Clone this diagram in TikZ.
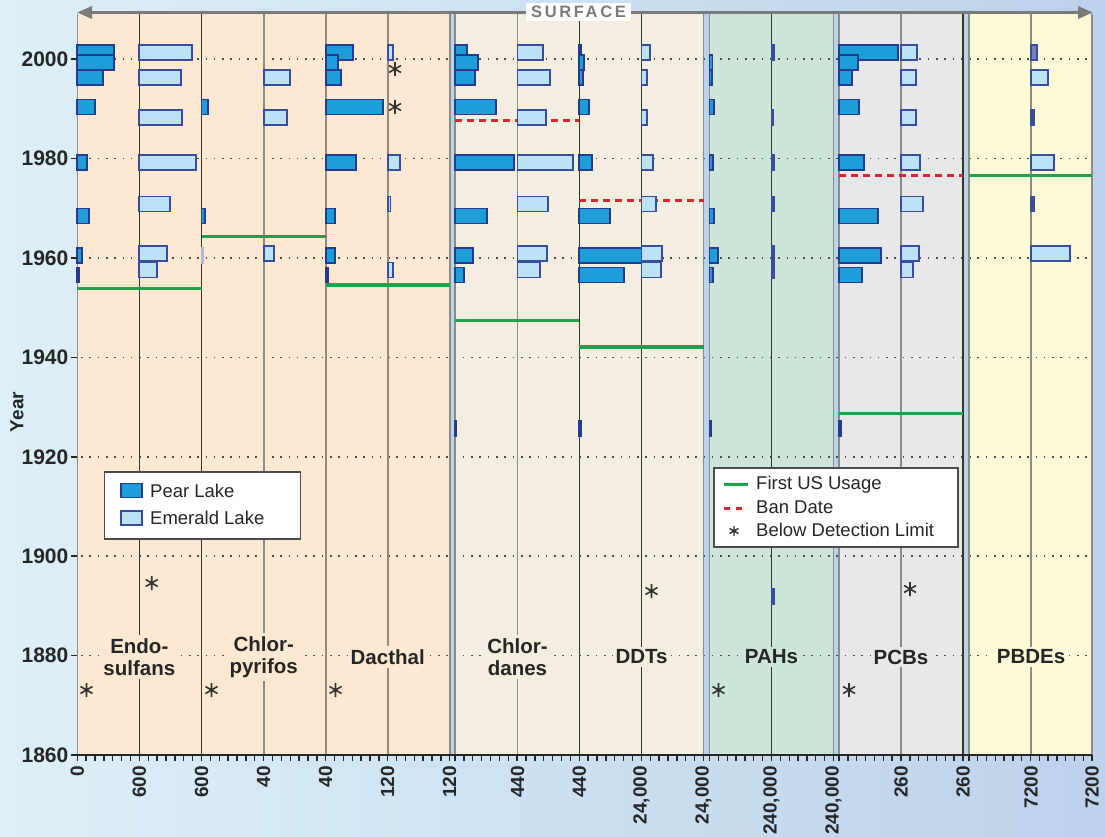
\documentclass[tikz,border=0pt]{standalone}
\usepackage{fontspec}
\setmainfont{Liberation Sans}
\usetikzlibrary{arrows.meta}
\definecolor{bgL}{HTML}{DDEFF8}
\definecolor{bgR}{HTML}{BDD2EB}
\definecolor{gapC}{HTML}{BAD4EC}
\definecolor{peach}{HTML}{FDE9D1}
\definecolor{beige}{HTML}{F3EEDF}
\definecolor{mint}{HTML}{CDE6D9}
\definecolor{pale}{HTML}{E8E8EA}
\definecolor{lemon}{HTML}{FCFAD7}
\definecolor{pearF}{HTML}{1E9ED8}
\definecolor{pearD}{HTML}{263A8E}
\definecolor{emerF}{HTML}{BCE2F6}
\definecolor{emerD}{HTML}{3A4C9E}
\definecolor{useG}{HTML}{20A24A}
\definecolor{banR}{HTML}{D8262E}
\definecolor{lineD}{HTML}{333333}
\definecolor{lineG}{HTML}{8C8C8C}
\definecolor{arrowC}{HTML}{7A7A7A}
\begin{document}
\begin{tikzpicture}[x=1pt,y=-1pt,
 pear/.style={fill=pearF,draw=pearD,line width=1.8pt},
 emer/.style={fill=emerF,draw=emerD,line width=1.8pt},
 gridline/.style={draw=black!70,line width=1.6pt,dash pattern=on 1.6pt off 6.7pt},
 firstuse/.style={draw=useG,line width=3pt},
 thickuse/.style={draw=useG,line width=4pt},
 bandate/.style={draw=banR,line width=3pt,dash pattern=on 7pt off 5pt},
 divline/.style={draw=lineG,line width=1.6pt},
 darkline/.style={draw=lineD,line width=1.6pt},
 pname/.style={font=\bfseries\fontsize{20.5}{22}\selectfont,align=center,inner sep=3pt,text=black!85},
 ylab/.style={font=\bfseries\fontsize{21}{22}\selectfont,anchor=east,inner sep=1pt,text=black!85},
 xlab/.style={font=\bfseries\fontsize{19}{21}\selectfont,rotate=90,anchor=east,inner sep=1pt,text=black!85},
 legtext/.style={font=\fontsize{18.5}{20}\selectfont,anchor=west,inner sep=1pt,text=black!85},
 legbox/.style={draw=black!70,fill=white,line width=1.3pt,inner sep=0pt},
 astk/.pic={\draw[line width=1.6pt,draw=black!80] (0,-7)--(0,7) (-6,-3.5)--(6,3.5) (-6,3.5)--(6,-3.5);},
 smallastk/.pic={\draw[line width=1.4pt,draw=black!80] (0,-5)--(0,5) (-4.4,-2.5)--(4.4,2.5) (-4.4,2.5)--(4.4,-2.5);}
]
\useasboundingbox (0,0) rectangle (1105,837);
\clip (0,0) rectangle (1105,837);
\shade[left color=bgL,right color=bgR] (0,0) rectangle (1105,837);

% gaps and panels
\fill[gapC] (449.7,14) rectangle (455,755);
\fill[gapC] (703.5,14) rectangle (709.5,755);
\fill[gapC] (833.5,14) rectangle (839,755);
\fill[gapC] (963,14) rectangle (969,755);
\fill[peach] (77.3,14) rectangle (449.7,755);
\fill[beige] (455,14) rectangle (703.5,755);
\fill[mint] (709.5,14) rectangle (833.5,755);
\fill[pale] (839,14) rectangle (963,755);
\fill[lemon] (969,14) rectangle (1092,755);

% dotted grid
\foreach \y in {59.2,158.6,258,357.4,456.8,556.2,655.6}
  \draw[gridline] (81,\y) -- (1092,\y);

% vertical lines
\foreach \x in {77.3,263.7,325.7,387.7,449.7,455,517.5,703.5,709.5,833.5,839,901,969,1031,1092}
  \draw[divline] (\x,14) -- (\x,755);
\foreach \x in {139.3,201.5,579.3,641.5,771.5,963}
  \draw[darkline] (\x,14) -- (\x,755);

% first use and ban dates
\draw[firstuse] (77.3,288.5) -- (201.5,288.5);
\draw[firstuse] (201.5,236) -- (325.7,236);
\draw[thickuse] (325.7,285) -- (449.7,285);
\draw[firstuse] (455,320) -- (579.3,320);
\draw[thickuse] (579.3,347) -- (703.5,347);
\draw[firstuse] (839,413) -- (963,413);
\draw[firstuse] (969,175.5) -- (1092,175.5);
\draw[bandate] (455,120.7) -- (579.3,120.7);
\draw[bandate] (579.3,201) -- (703.5,201);
\draw[bandate] (839,175.5) -- (963,175.5);

% Endosulfans
\foreach \t/\e in {45/114,55/114,70/102.7,99.5/95,155/86.7,208.5/89,248/82,267.5/78.8}
  \draw[pear] (77.3,\t) rectangle (\e,\t+15);
\foreach \t/\e in {45/192.3,70/181,110/181.7,155/195.7,196.5/170,246/166.7,262.5/157.3}
  \draw[emer] (139.3,\t) rectangle (\e,\t+15);
% Chlorpyrifos
\foreach \t/\e in {99.5/207.7,208.5/205.3}
  \draw[pear] (201.5,\t) rectangle (\e,\t+15);
\draw[emer,draw=emerD!40,line width=1.2pt] (201.5,248) rectangle (203,263);
\foreach \t/\e in {70/290,110/286.7,246/274}
  \draw[emer] (263.7,\t) rectangle (\e,\t+15);
% Dacthal
\foreach \t/\e in {45/352.7,55/337.7,70/341,99.5/382.7,155/356,208.5/335,248/335,267.5/327.7}
  \draw[pear] (325.7,\t) rectangle (\e,\t+15);
\foreach \t/\e in {45/393.3,155/400,196.5/390.5,262.5/393}
  \draw[emer] (387.7,\t) rectangle (\e,\t+15);
% Chlordanes
\foreach \t/\e in {45/467.3,55/478.3,70/475,99.5/496,155/514,208.5/486.7,248/473.3,267.5/464.3,421/456.5}
  \draw[pear] (455,\t) rectangle (\e,\t+15);
\foreach \t/\e in {45/543.3,70/550,110/546,155/572.7,196.5/548.3,246/546.7,262.5/540}
  \draw[emer] (517.5,\t) rectangle (\e,\t+15);
% DDTs
\foreach \t/\e in {45/581,55/584.3,70/583.3,99.5/589,155/592.3,208.5/610,248/641.5,267.5/624.3,421/580.8}
  \draw[pear] (579.3,\t) rectangle (\e,\t+15);
\foreach \t/\e in {45/650,70/647.3,110/647.3,155/652.7,196.5/656,246/662.3,262.5/660.7}
  \draw[emer] (641.5,\t) rectangle (\e,\t+15);
% PAHs
\foreach \t/\e in {55/712.5,70/711.7,99.5/714,155/713.3,208.5/714,248/718.3,267.5/713.3,421/711}
  \draw[pear] (709.5,\t) rectangle (\e,\t+15);
\foreach \t/\e in {45/774,110/773.5,155/774,196.5/774,589/774}
  \draw[emer,fill=emerD] (771.5,\t) rectangle (\e,\t+15);
\draw[emer,fill=emerD] (771.5,246) rectangle (774,278);
% PCBs
\foreach \t/\e in {45/897.7,55/857.7,70/851.7,99.5/859.3,155/864.3,208.5/877.7,248/880.7,267.5/861.7,421/841}
  \draw[pear] (839,\t) rectangle (\e,\t+15);
\foreach \t/\e in {45/917.3,70/915.7,110/915.7,155/920,196.5/922.7,246/918.7,262.5/913.3}
  \draw[emer] (901,\t) rectangle (\e,\t+15);
% PBDEs
\draw[emer,fill=emerD!70] (1031,45) rectangle (1036.7,60);
\foreach \t/\e in {70/1048.3,155/1054.3,246/1070}
  \draw[emer] (1031,\t) rectangle (\e,\t+15);
\foreach \t/\e in {110/1034.5,196.5/1034.5}
  \draw[emer,fill=emerD] (1031,\t) rectangle (\e,\t+15);

% below detection limit
\pic at (395,69) {astk};
\pic at (395,107) {astk};
\pic at (151.7,583) {astk};
\pic at (86.5,690) {astk};
\pic at (211.5,690) {astk};
\pic at (335.5,690) {astk};
\pic at (651.5,591) {astk};
\pic at (718.5,690) {astk};
\pic at (849,690) {astk};
\pic at (910,589) {astk};

% compound names
\node[pname,fill=peach] (nEndo) at (139.3,657) {Endo-\\sulfans};
\node[pname,fill=peach] (nChlp) at (263.7,657) {Chlor-\\pyrifos};
\node[pname,fill=peach] (nDact) at (387.7,657) {Dacthal};
\node[pname,fill=beige] (nChld) at (517.5,657) {Chlor-\\danes};
\node[pname,fill=beige] (nDDT) at (641.5,657) {DDTs};
\node[pname,fill=mint] (nPAH) at (771.5,657) {PAHs};
\node[pname,fill=pale] (nPCB) at (901,657) {PCBs};
\node[pname,fill=lemon] (nPBDE) at (1031,657) {PBDEs};

% legend 1
\node[legbox,minimum width=196pt,minimum height=67pt] (leg1) at (202.3,505.5) {};
\draw[pear] (121,483.5) rectangle (142,497.5);
\draw[emer] (121,511) rectangle (142,525);
\node[legtext] (lPear) at (149,491) {Pear Lake};
\node[legtext] (lEmer) at (149,518) {Emerald Lake};

% legend 2
\node[legbox,minimum width=244pt,minimum height=79pt] (leg2) at (836,507.5) {};
\coordinate (u1) at (724,484.5); \coordinate (u2) at (748,484.5);
\draw[firstuse] (u1) -- (u2);
\coordinate (b1) at (724,508); \coordinate (b2) at (748,508);
\draw[bandate,dash pattern=on 6pt off 6pt] (b1) -- (b2);
\pic at (734,531) {smallastk};
\node[legtext] (lUse) at (755,485) {First US Usage};
\node[legtext] (lBan) at (755,507.5) {Ban Date};
\node[legtext] (lBDL) at (755,530) {Below Detection Limit};

% axes
\draw[black!85,line width=1.6pt] (77.3,755) -- (1092,755);
\foreach \L/\W in {77.3/124.2,201.5/124.2,325.7/124,455/124.3,579.3/124.2,709.5/124,839/124,969/123}
  \foreach \i in {0,...,14}
    \draw[black!85,line width=1.4pt] (\L+\i*\W/14,755) -- ++(0,6);
\foreach \y/\t in {59.2/2000,158.6/1980,258/1960,357.4/1940,456.8/1920,556.2/1900,655.6/1880,755/1860}{
  \draw[black!85,line width=1.6pt] (71,\y) -- (77.3,\y);
  \node[ylab] (y\t) at (69.5,\y) {\t};
}
\node[font=\bfseries\fontsize{19}{21}\selectfont,rotate=90,text=black!85] (ytitle) at (17,412) {Year};
\foreach \x/\t [count=\n] in {77.3/0,139.3/600,201.5/600,263.7/40,325.7/40,387.7/120,449.7/120,517.5/440,579.3/440,641.5/{24,000},703.5/{24,000},771.5/{240,000},833.5/{240,000},901/260,963/260,1031/7200,1092/7200}
  \node[xlab] (x\n) at (\x,765) {\t};

% surface arrow
\coordinate (aL) at (77,12.5);
\coordinate (aR) at (1093,12.5);
\draw[arrowC,line width=3.2pt,{Triangle[length=15pt,width=12pt]}-{Triangle[length=15pt,width=12pt]}] (aL) -- (aR);
\node[fill=white,text=arrowC,inner xsep=5pt,inner ysep=3pt,font=\bfseries\fontsize{16.5}{17}\selectfont\addfontfeatures{LetterSpace=16}] (surf) at (578.5,12) {SURFACE};
\end{tikzpicture}
\end{document}
